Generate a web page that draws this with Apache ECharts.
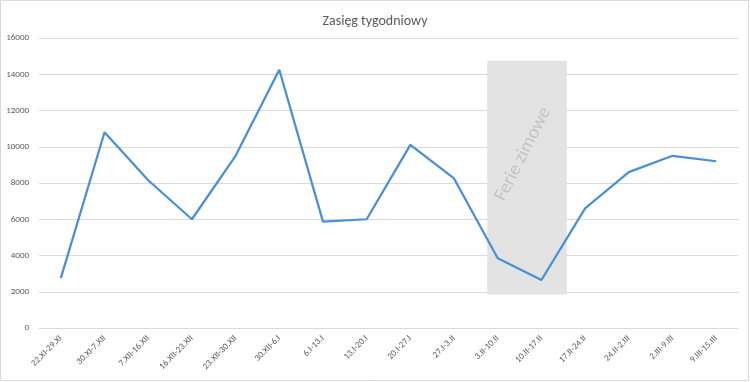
<!DOCTYPE html>
<html>
<head>
<meta charset="utf-8">
<script src="https://cdn.jsdelivr.net/npm/echarts@6/dist/echarts.min.js"></script>
<style>
html,body{margin:0;padding:0;background:#fff;}
#chart{width:750px;height:382px;}
</style>
</head>
<body>
<div id="chart"></div>
<script>
const titleText = 'Zasięg tygodniowy';
const categories = ['22.XI-29.XI','30.XI-7.XII','7.XII-16.XII','16.XII-23.XII','23.XII-30.XII','30.XII-6.I','6.I-13.I','13.I-20.I','20.I-27.I','27.I-3.II','3.II-10.II','10.II-17.II','17.II-24.II','24.II-2.III','2.III-9.III','9.III-15.III'];
const reach = [2750,10800,8150,6000,9500,14250,5870,6000,10100,8250,3850,2650,6600,8600,9500,9200];
const yTicks = {min:0, max:16000, interval:2000};
const holidayLabel = 'Ferie zimowe';
// holiday band in category-index units (x) and value units (y)
const holidayX = [9.76, 11.58];
const holidayY = [1850, 14750];

const chart = echarts.init(document.getElementById('chart'), null, {renderer:'canvas'});
const font = 'Calibri, Carlito, "Open Sans", "Liberation Sans", sans-serif';
chart.setOption({
  animation:false,
  backgroundColor:'#ffffff',
  title:{text:titleText,left:'center',top:9,textStyle:{fontFamily:font,fontSize:14,fontWeight:'normal',color:'#595959'}},
  grid:{left:39,right:12,top:38,bottom:54,containLabel:false},
  xAxis:[{
    type:'category',data:categories,boundaryGap:true,
    axisLine:{show:true,lineStyle:{color:'#d9d9d9'}},
    axisTick:{show:false},
    axisLabel:{rotate:45,interval:0,margin:9,fontSize:9,fontFamily:font,color:'#595959'}
  },{
    type:'value',min:-0.5,max:categories.length-0.5,show:false
  }],
  yAxis:[{
    type:'value',min:yTicks.min,max:yTicks.max,interval:yTicks.interval,
    axisLine:{show:false},axisTick:{show:false},
    splitLine:{lineStyle:{color:'#d9d9d9',width:1}},
    axisLabel:{fontSize:9,fontFamily:font,color:'#595959',margin:10,formatter:v=>String(v)}
  }],
  graphic:[{type:'rect',shape:{x:0.5,y:0.5,width:748,height:380},style:{fill:'none',stroke:'#d9d9d9',lineWidth:1},silent:true}],
  series:[{
    type:'line',xAxisIndex:1,data:[],
    markArea:{silent:true,
      itemStyle:{color:'#e3e3e3'},
      label:{show:true,position:'inside',rotate:63,offset:[19,-14],formatter:holidayLabel,fontSize:19,fontFamily:font,color:'#c4c4c4'},
      data:[[{xAxis:holidayX[0],yAxis:holidayY[0]},{xAxis:holidayX[1],yAxis:holidayY[1]}]]
    }
  },{
    type:'line',data:reach,symbol:'none',smooth:false,
    lineStyle:{color:'#4a8fd5',width:2.25},
    z:3
  }]
});
</script>
</body>
</html>
